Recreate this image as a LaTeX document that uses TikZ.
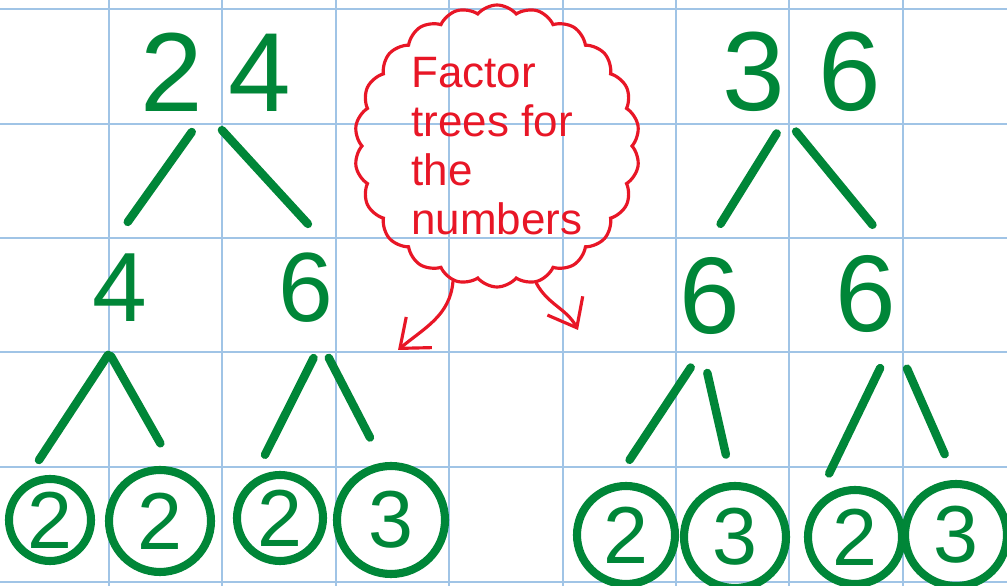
\documentclass[tikz,border=0pt]{standalone}
\usepackage{fontspec}
\setmainfont{Liberation Sans}
\usetikzlibrary{shapes.symbols, arrows.meta}
\definecolor{treegreen}{RGB}{0,134,56}
\definecolor{notered}{RGB}{232,22,38}
\definecolor{gridblue}{RGB}{160,196,230}

\begin{document}
\begin{tikzpicture}
    \tikzset{num/.style={text=treegreen, inner sep=0pt, font=\fontsize{32}{32}\selectfont}}
    \tikzset{midnum/.style={num, font=\fontsize{28}{28}\selectfont}}
    \tikzset{leaf/.style={circle, draw=treegreen, line width=2.3pt, text=treegreen, inner sep=0pt, font=\fontsize{23}{23}\selectfont}}
    \tikzset{branch/.style={treegreen, line width=2.4pt, line cap=round, shorten <=7pt, shorten >=11pt}}
    \tikzset{twig/.style={branch, shorten <=11pt, shorten >=8pt}}
    \tikzset{note/.style={notered, line width=0.9pt, line cap=round, -{Straight Barb[length=2.5mm, width=4mm]}}}

    \useasboundingbox (0,0) rectangle (10.07,5.86);
    \fill[white] (0,0) rectangle (10.07,5.86);
    \foreach \k in {0,...,7} \draw[gridblue, line width=0.6pt] (1.09+1.134*\k,0) -- (1.09+1.134*\k,5.86);
    \foreach \y in {5.77,4.62,3.48,2.34,1.19,0.04} \draw[gridblue, line width=0.6pt] (0,\y) -- (10.07,\y);

    % tree of 24
    \node[num] (n24) at (2.16,5.14) {2\kern0.25cm 4};
    \node[midnum] (n4) at (1.20,2.98) {4};
    \node[midnum] (n6) at (3.06,2.98) {6};
    \node[leaf, minimum size=0.82cm] (l1) at (0.50,0.66) {2};
    \node[leaf, minimum size=1.02cm] (l2) at (1.60,0.65) {2};
    \node[leaf, minimum size=0.86cm] (l3) at (2.80,0.68) {2};
    \node[leaf, minimum size=1.08cm] (l4) at (3.91,0.66) {3};

    \draw[branch] (n24.-104) -- (n4.113);
    \draw[branch] (n24.-105) -- (n6.north east);
    \draw[twig] (n4.-75) -- (l1.126);
    \draw[twig] (n4.south west) -- (l2.75);
    \draw[twig] (n6.-55) -- (l3.126);
    \draw[twig] (n6.-82) -- (l4.98);

    % tree of 36
    \node[num] (n36) at (8.02,5.14) {3\kern0.33cm 6};
    \node[num, font=\fontsize{31}{31}\selectfont] (n6a) at (7.10,2.90) {6};
    \node[num, font=\fontsize{31}{31}\selectfont] (n6b) at (8.66,2.92) {6};
    \node[leaf, minimum size=0.98cm] (r1) at (6.26,0.51) {2};
    \node[leaf, minimum size=1.02cm] (r2) at (7.35,0.49) {3};
    \node[leaf, minimum size=0.94cm] (r3) at (8.55,0.49) {2};
    \node[leaf, minimum size=1.02cm] (r4) at (9.56,0.51) {3};

    \draw[branch] (n36.-107) -- (n6a.104);
    \draw[branch] (n36.-118) -- (n6b.north east);
    \draw[twig] (n6a.-87) -- (r1.103);
    \draw[twig] (n6a.-106) -- (r2.93);
    \draw[twig, shorten >=12pt] (n6b.south east) -- (r3.150);
    \draw[twig] (n6b.-57) -- (r4.north);

    % the note
    \node[cloud, draw=notered, line width=0.9pt, cloud puffs=22, cloud puff arc=100, cloud ignores aspect,
        minimum width=2.85cm, minimum height=2.82cm, inner sep=0pt,
        text=notered, align=left, font=\fontsize{12.5}{14}\selectfont] (bubble) at (4.97,4.40) {Factor\\trees for\\the\\numbers};
    \coordinate (tipL) at (3.98,2.36);
    \coordinate (tipR) at (5.78,2.56);
    \draw[note] (bubble.-108) to[out=-95, in=40] (tipL);
    \draw[note] (bubble.-74) to[out=-62, in=118] (tipR);
\end{tikzpicture}
\end{document}
